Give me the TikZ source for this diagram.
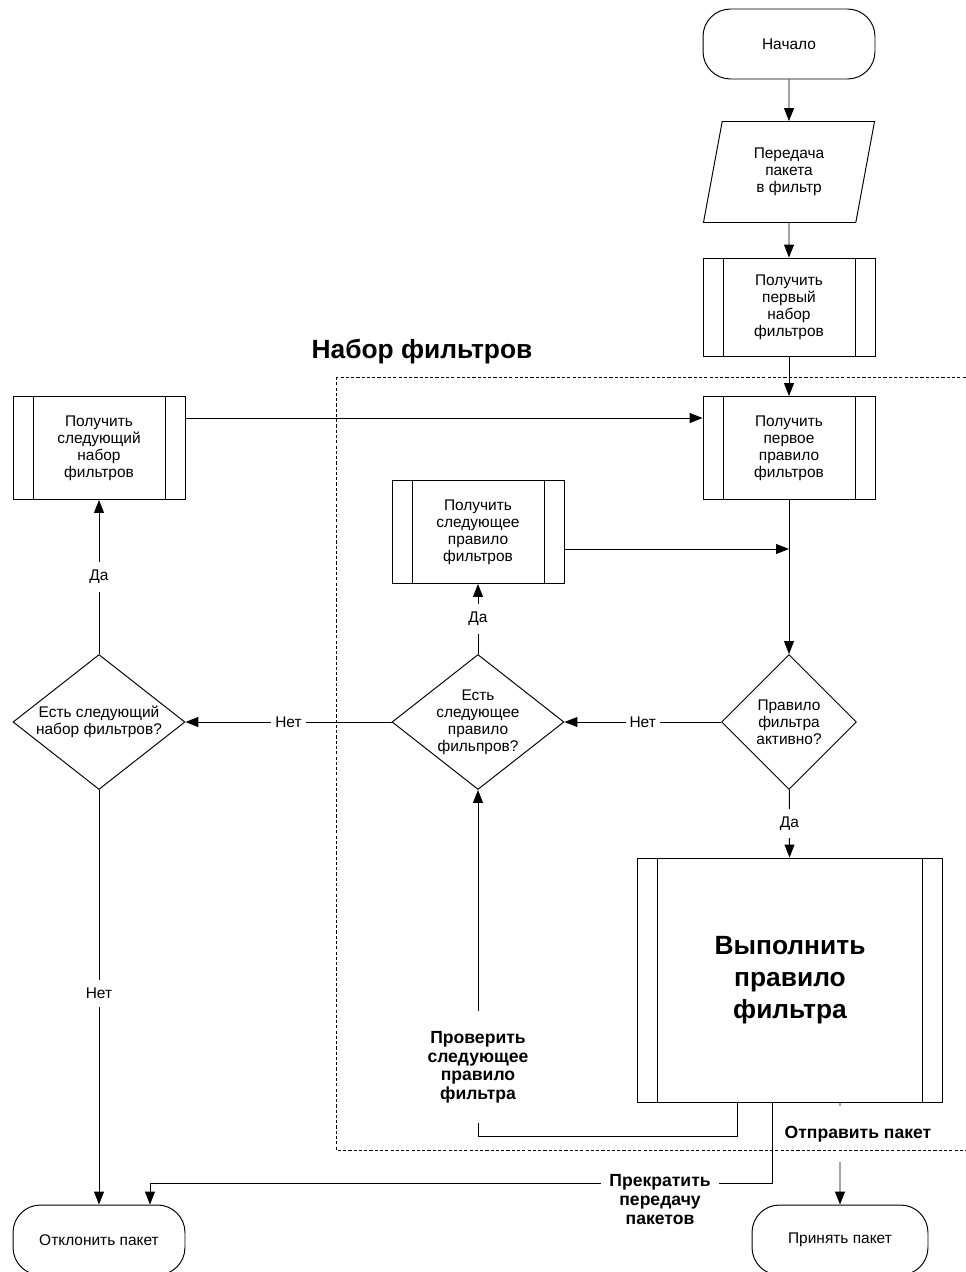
\documentclass[tikz,border=0pt]{standalone}
\usepackage{fontspec}
\setmainfont{Liberation Sans}
\usetikzlibrary{arrows.meta, shapes.geometric}
\tikzset{
  txt/.style={font=\fontsize{8.8}{9.6}\selectfont, align=center},
  term/.style={draw, txt, rounded corners=0.55cm, minimum width=3.44cm, minimum height=1.40cm},
  io/.style={draw, txt, trapezium, trapezium left angle=79, trapezium right angle=101,
             trapezium stretches=true, minimum width=3.44cm, minimum height=2.02cm},
  subproc/.style={draw, txt, minimum width=3.44cm, minimum height=2.06cm,
    path picture={
      \draw ([xshift=0.4cm]path picture bounding box.north west)
         -- ([xshift=0.4cm]path picture bounding box.south west);
      \draw ([xshift=-0.4cm]path picture bounding box.north east)
         -- ([xshift=-0.4cm]path picture bounding box.south east);}},
  decision/.style={draw, txt, diamond, aspect=1.27, inner sep=0pt,
                   minimum width=3.44cm, minimum height=2.7cm},
  flow/.style={-{Triangle[length=0.26cm, width=0.2cm]}},
  answer/.style={fill=white, txt, inner xsep=0.08cm, inner ysep=0.16cm},
  note/.style={fill=white, font=\fontsize{10}{10.6}\selectfont\bfseries, align=center,
               inner xsep=0.16cm, inner ysep=0.4cm},
  setframe/.style={dash pattern=on 1.8pt off 1.2pt}
}

\begin{document}
\begin{tikzpicture}[x=0.02cm, y=-0.02cm, line width=0.55pt]
  \useasboundingbox (0,0) rectangle (965,1272);
  % main column
  \node[term] (start) at (789,44) {Начало};
  \node[io] (input) at (789,172) {Передача\\пакета\\в фильтр};
  \node[subproc, minimum height=1.96cm] (firstset) at (789,307) {Получить\\первый\\набор\\фильтров};
  \node[subproc] (firstrule) at (789,448) {Получить\\первое\\правило\\фильтров};
  \node[decision, aspect=1, minimum width=2.7cm] (active) at (789,722) {Правило\\фильтра\\активно?};
  \node[subproc, minimum width=6.1cm, minimum height=4.88cm,
        font=\fontsize{15}{18.2}\selectfont\bfseries] (exec) at (790,980) {Выполнить\\правило\\фильтра};
  \node[term, minimum width=3.52cm] (accept) at (840,1240) {Принять пакет};
  % inner loop over the rules
  \node[subproc] (nextrule) at (478,532) {Получить\\следующее\\правило\\фильтров};
  \node[decision] (morerule) at (478,722) {Есть\\следующее\\правило\\фильпров?};
  % outer loop over the sets
  \node[subproc] (nextset) at (99,448) {Получить\\следующий\\набор\\фильтров};
  \node[decision] (moreset) at (99,722) {Есть следующий\\набор фильтров?};
  \node[term] (reject) at (99,1240) {Отклонить пакет};

  \node[font=\fontsize{15}{18}\selectfont\bfseries] (title) at (422,352) {Набор фильтров};

  \draw[flow] (start) -- (input);
  \draw[flow] (input) -- (firstset);
  \draw[flow] (firstset) -- (firstrule);
  \draw[flow] ([yshift=0.6cm]nextset.east) -- ([yshift=0.6cm]firstrule.west);
  \draw[flow] (firstrule) -- (active);
  \draw[flow] ([yshift=-0.34cm]nextrule.east) -- ([yshift=-0.34cm]nextrule.east -| firstrule.south);

  \draw[flow] (active) -- node[answer] {Нет} (morerule);
  \draw[flow] (morerule) -- node[answer] {Да} (nextrule);
  \draw[flow] (morerule) -- node[answer] {Нет} (moreset);
  \draw[flow] (moreset) -- node[answer] {Да} (nextset);
  \draw[flow] (moreset) -- node[answer, pos=0.49] {Нет} (reject);
  \draw[flow] (active) -- node[answer] {Да} (exec);

  % ways out of the rule
  \draw[flow] ([xshift=-1.06cm]exec.south) -- ++(0,34)
    -| node[note, pos=0.6] {Проверить\\следующее\\правило\\фильтра} (morerule.south);
  \draw[flow] ([xshift=-0.36cm]exec.south) -- ++(0,81)
    -| node[note, pos=0.09, yshift=-0.32cm] {Прекратить\\передачу\\пакетов} ([xshift=1.02cm]reject.north);
  \draw[flow] ([xshift=1cm]exec.south) -- node[note, pos=0.31, xshift=0.36cm] {Отправить пакет} (accept);

  % frame of the filter set
  \draw[setframe] (336,377) rectangle (990,1150);
\end{tikzpicture}
\end{document}
